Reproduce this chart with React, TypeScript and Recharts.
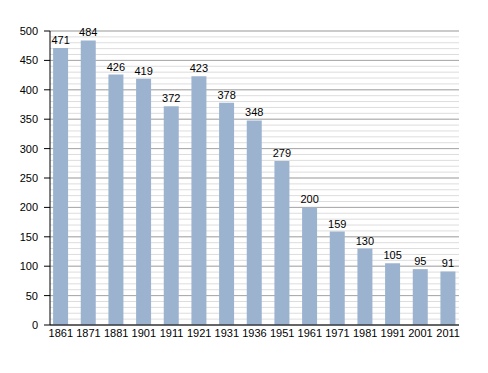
import { BarChart, Bar, XAxis, YAxis, CartesianGrid, LabelList } from 'recharts';

const years = ['1861', '1871', '1881', '1901', '1911', '1921', '1931', '1936', '1951', '1961', '1971', '1981', '1991', '2001', '2011'];
const population = [471, 484, 426, 419, 372, 423, 378, 348, 279, 200, 159, 130, 105, 95, 91];
const majorTicks = [0, 50, 100, 150, 200, 250, 300, 350, 400, 450, 500];
const minorTicks = Array.from({ length: 51 }, (_, i) => i * 10);

const data = years.map((year, i) => ({ year, value: population[i] }));

const font = { fontFamily: '"Liberation Sans", Arial, sans-serif', fontSize: 11, fill: '#000' };

export default function App() {
  return (
    <div style={{ position: 'absolute', left: 0, top: 0, background: '#fff' }}>
      <BarChart
        width={488}
        height={373}
        data={data}
        margin={{ top: 31, right: 29, bottom: 28, left: 0 }}
        barCategoryGap="22%"
      >
        <CartesianGrid
          yAxisId="main"
          vertical={false}
          horizontalValues={minorTicks}
          stroke="#dddddd"
        />
        <CartesianGrid
          yAxisId="main"
          vertical={false}
          horizontalValues={majorTicks}
          stroke="#a8a8a8"
        />
        <XAxis
          dataKey="year"
          height={20}
          tick={font}
          tickLine={false}
          tickSize={2}
          axisLine={{ stroke: '#000' }}
          interval={0}
          tickMargin={2}
          padding={{ left: -3, right: -3 }}
        />
        <YAxis
          yAxisId="minor"
          width={0}
          domain={[0, 500]}
          ticks={minorTicks}
          interval={0}
          tickSize={3}
          tick={false}
          axisLine={false}
          tickLine={{ stroke: '#000' }}
        />
        <YAxis
          yAxisId="main"
          width={50}
          domain={[0, 500]}
          ticks={majorTicks}
          interval={0}
          tickSize={6}
          tick={font}
          tickMargin={6}
          axisLine={{ stroke: '#000' }}
          tickLine={{ stroke: '#000' }}
        />
        <Bar yAxisId="main" dataKey="value" fill="#9cb3d0" isAnimationActive={false}>
          <LabelList dataKey="value" position="top" offset={4} style={font} />
        </Bar>
      </BarChart>
    </div>
  );
}
